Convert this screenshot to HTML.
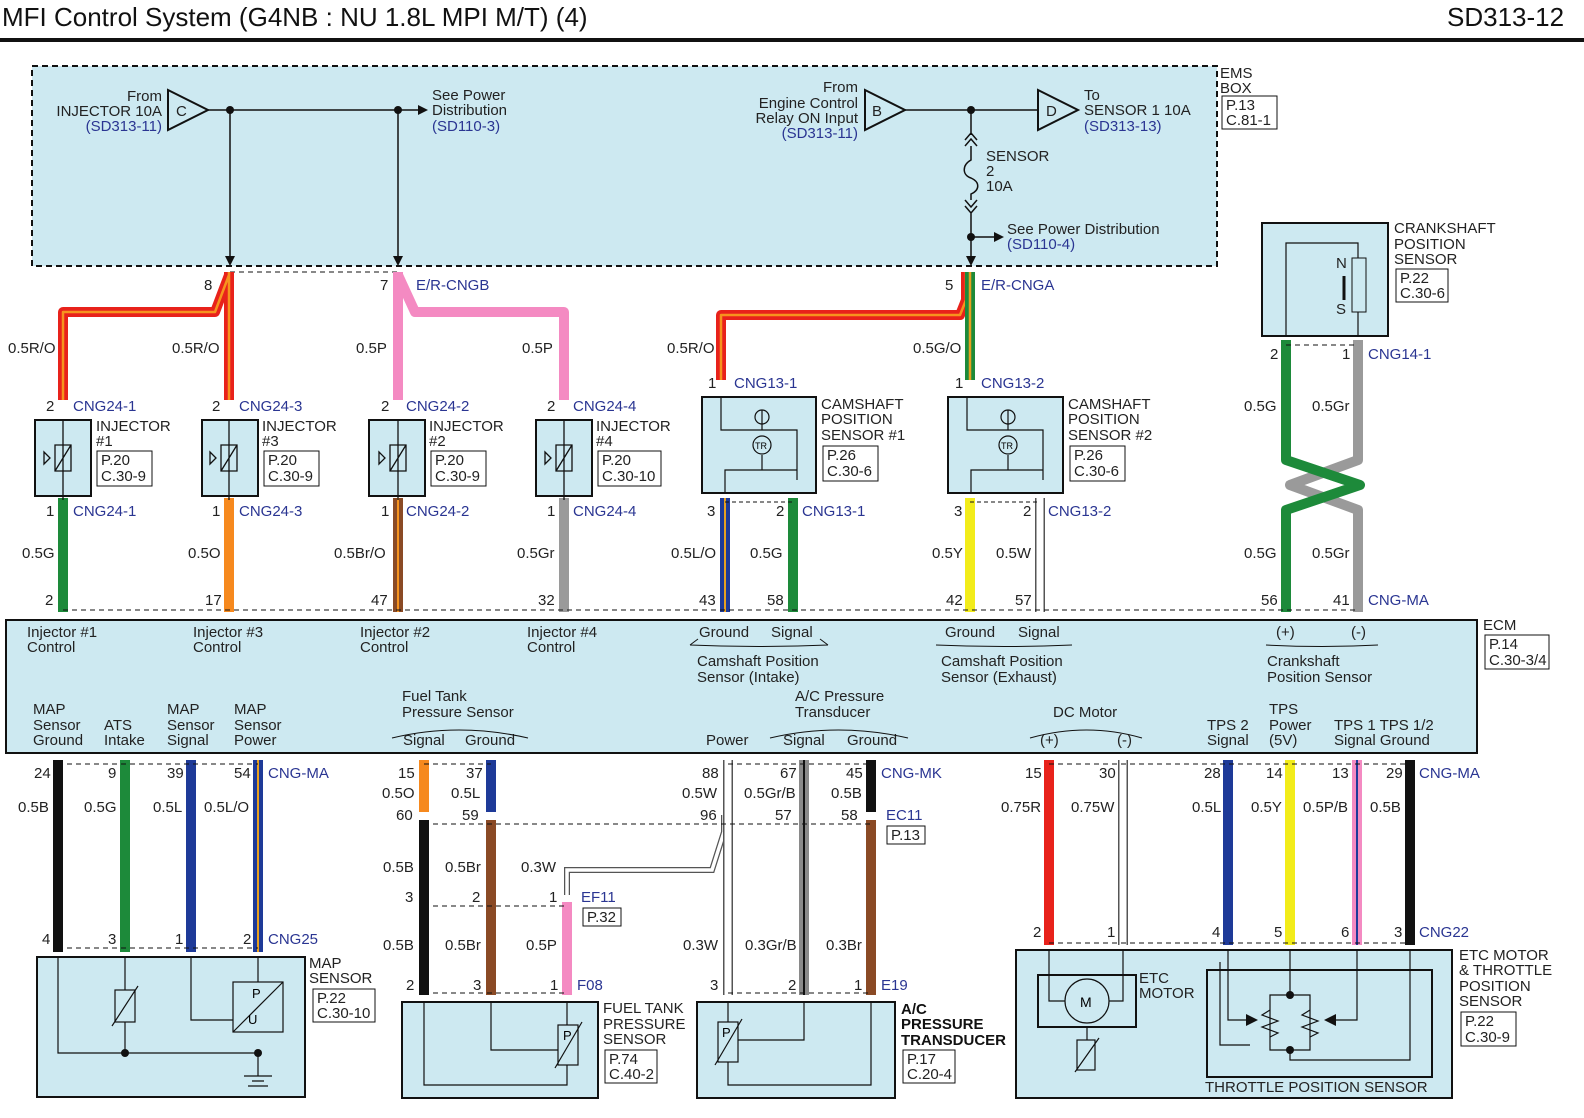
<!DOCTYPE html>
<html><head><meta charset="utf-8"><style>
html,body{margin:0;padding:0;background:#fff;}
svg{display:block;font-family:"Liberation Sans",sans-serif;}
.t{font-size:15px;fill:#222;}
.b{font-size:15px;fill:#2a3592;}
.s{font-size:15px;fill:#222;}
</style></head><body>
<svg width="1584" height="1118" viewBox="0 0 1584 1118" xmlns="http://www.w3.org/2000/svg">
<rect width="1584" height="1118" fill="#fff"/>
<text x="2" y="26" style="font-size:26px" fill="#111">MFI Control System (G4NB : NU 1.8L MPI M/T) (4)</text>
<text x="1447" y="26" style="font-size:26px" fill="#111">SD313-12</text>
<rect x="0" y="38" width="1584" height="4" fill="#111"/>

<!-- EMS box -->
<rect x="32" y="66" width="1185" height="200" fill="#cde9f1" stroke="#111" stroke-width="2" stroke-dasharray="6,4"/>
<text class="t" x="1220" y="78">EMS</text><text class="t" x="1220" y="93">BOX</text>
<rect x="1222" y="96" width="55" height="33" fill="none" stroke="#111"/>
<text class="t" x="1226" y="110">P.13</text><text class="t" x="1226" y="125">C.81-1</text>
<text class="t" x="162" y="101" text-anchor="end">From</text>
<text class="t" x="162" y="116" text-anchor="end">INJECTOR 10A</text>
<text class="b" x="162" y="131" text-anchor="end">(SD313-11)</text>
<polygon points="168,90 208,110 168,130" fill="none" stroke="#111" stroke-width="2"/><text class="t" x="176" y="116">C</text>
<line x1="208" y1="110" x2="420" y2="110" stroke="#111" stroke-width="1.5"/>
<polygon points="418,105 428,110 418,115" fill="#111"/>
<circle cx="230" cy="110" r="4" fill="#111"/><circle cx="398" cy="110" r="4" fill="#111"/>
<line x1="230" y1="110" x2="230" y2="262" stroke="#111" stroke-width="1.5"/>
<line x1="398" y1="110" x2="398" y2="262" stroke="#111" stroke-width="1.5"/>
<polygon points="225,256 230,266 235,256" fill="#111"/><polygon points="393,256 398,266 403,256" fill="#111"/>
<text class="t" x="432" y="100">See Power</text><text class="t" x="432" y="115">Distribution</text><text class="b" x="432" y="131">(SD110-3)</text>
<text class="t" x="858" y="92" text-anchor="end">From</text>
<text class="t" x="858" y="108" text-anchor="end">Engine Control</text>
<text class="t" x="858" y="123" text-anchor="end">Relay ON Input</text>
<text class="b" x="858" y="138" text-anchor="end">(SD313-11)</text>
<polygon points="865,90 905,110 865,130" fill="none" stroke="#111" stroke-width="2"/><text class="t" x="872" y="116">B</text>
<line x1="905" y1="110" x2="1038" y2="110" stroke="#111" stroke-width="1.5"/>
<polygon points="1038,90 1078,110 1038,130" fill="none" stroke="#111" stroke-width="2"/><text class="t" x="1046" y="116">D</text>
<circle cx="971" cy="110" r="4" fill="#111"/>
<text class="t" x="1084" y="100">To</text><text class="t" x="1084" y="115">SENSOR 1 10A</text><text class="b" x="1084" y="131">(SD313-13)</text>
<path d="M971,110 V135 M965,140 L971,133 L977,140 M965,146 L971,139 L977,146 M971,146 V160 C962,165 962,175 971,178 C980,182 980,190 971,194 V200 M965,200 L971,207 L977,200 M965,206 L971,213 L977,206 M971,213 V262" fill="none" stroke="#111" stroke-width="1.5"/>
<text class="t" x="986" y="161">SENSOR</text><text class="t" x="986" y="176">2</text><text class="t" x="986" y="191">10A</text>
<circle cx="971" cy="237" r="4" fill="#111"/><line x1="971" y1="237" x2="995" y2="237" stroke="#111" stroke-width="1.5"/><polygon points="994,232 1004,237 994,242" fill="#111"/>
<text class="t" x="1007" y="234">See Power Distribution</text><text class="b" x="1007" y="249">(SD110-4)</text>
<polygon points="966,256 971,266 976,256" fill="#111"/>
<line x1="230" y1="272" x2="398" y2="272" stroke="#111" stroke-dasharray="5,4"/>

<!-- top wires -->
<g fill="none" stroke-linejoin="round">
<path d="M229,272 V400 M229,275 L215,312 H63 V400" stroke="#e8221b" stroke-width="10"/>
<path d="M229,272 V400 M229,275 L215,312 H63 V400" stroke="#f6931e" stroke-width="2.5"/>
<path d="M398,272 V400 M398,275 L415,312 H564 V400" stroke="#f48ac2" stroke-width="10"/>
<path d="M721,380 V315 H960 L966,300 V272" stroke="#e8221b" stroke-width="10"/>
<path d="M721,380 V315 H960 L966,300 V272" stroke="#f6931e" stroke-width="2.5"/>
<path d="M970,272 V380" stroke="#1d8a3a" stroke-width="10"/>
<path d="M970,272 V380" stroke="#e8a020" stroke-width="2.5"/>
<path d="M63,498 V612" stroke="#1d8a3a" stroke-width="10"/>
<path d="M229,498 V612" stroke="#f6891e" stroke-width="10"/>
<path d="M398,498 V612" stroke="#8a4a25" stroke-width="10"/>
<path d="M398,498 V612" stroke="#f6931e" stroke-width="2"/>
<path d="M564,498 V612" stroke="#9a9a9a" stroke-width="10"/>
<path d="M725,498 V612" stroke="#1e3a98" stroke-width="10"/>
<path d="M725,498 V612" stroke="#e8a020" stroke-width="2"/>
<path d="M793,498 V612" stroke="#1d8a3a" stroke-width="10"/>
<path d="M970,498 V612" stroke="#f2ec1a" stroke-width="10"/>
<path d="M1040,498 V612" stroke="#555" stroke-width="10"/><path d="M1040,498 V612" stroke="#fff" stroke-width="7"/>
<path d="M1358,340 V460 L1290,485 L1358,510 V612" stroke="#9a9a9a" stroke-width="10"/>
<path d="M1286,340 V460 L1360,485 L1286,510 V612" stroke="#1d8a3a" stroke-width="10"/>
</g>
<line x1="1286" y1="345" x2="1358" y2="345" stroke="#111" stroke-dasharray="5,4"/>
<text class="t" x="1270" y="359">2</text><text class="t" x="1342" y="359">1</text><text class="b" x="1368" y="359">CNG14-1</text>
<text class="t" x="1244" y="411">0.5G</text><text class="t" x="1312" y="411">0.5Gr</text>
<text class="t" x="1244" y="558">0.5G</text><text class="t" x="1312" y="558">0.5Gr</text>

<!-- wire labels top -->
<text class="t" x="8" y="353">0.5R/O</text><text class="t" x="172" y="353">0.5R/O</text>
<text class="t" x="356" y="353">0.5P</text><text class="t" x="522" y="353">0.5P</text>
<text class="t" x="667" y="353">0.5R/O</text><text class="t" x="913" y="353">0.5G/O</text>
<text class="t" x="204" y="290">8</text><text class="t" x="380" y="290">7</text><text class="b" x="416" y="290">E/R-CNGB</text>
<text class="t" x="945" y="290">5</text><text class="b" x="981" y="290">E/R-CNGA</text>

<!-- injectors -->
<g>
<rect x="35" y="420" width="56" height="76" fill="#cde9f1" stroke="#111" stroke-width="2"/>
<rect x="202" y="420" width="56" height="76" fill="#cde9f1" stroke="#111" stroke-width="2"/>
<rect x="369" y="420" width="56" height="76" fill="#cde9f1" stroke="#111" stroke-width="2"/>
<rect x="536" y="420" width="56" height="76" fill="#cde9f1" stroke="#111" stroke-width="2"/>
</g>
<g fill="none" stroke="#111" stroke-width="1.3">
<path d="M63,420 V500 M55,445 h16 v26 h-16 z M55,471 L71,445 M44,452 l6,6 l-6,6 z"/>
<path d="M229,420 V500 M221,445 h16 v26 h-16 z M221,471 L237,445 M210,452 l6,6 l-6,6 z"/>
<path d="M398,420 V500 M390,445 h16 v26 h-16 z M390,471 L406,445 M379,452 l6,6 l-6,6 z"/>
<path d="M564,420 V500 M556,445 h16 v26 h-16 z M556,471 L572,445 M545,452 l6,6 l-6,6 z"/>
</g>
<text class="t" x="46" y="411">2</text><text class="b" x="73" y="411">CNG24-1</text>
<text class="t" x="212" y="411">2</text><text class="b" x="239" y="411">CNG24-3</text>
<text class="t" x="381" y="411">2</text><text class="b" x="406" y="411">CNG24-2</text>
<text class="t" x="547" y="411">2</text><text class="b" x="573" y="411">CNG24-4</text>
<text class="t" x="46" y="516">1</text><text class="b" x="73" y="516">CNG24-1</text>
<text class="t" x="212" y="516">1</text><text class="b" x="239" y="516">CNG24-3</text>
<text class="t" x="381" y="516">1</text><text class="b" x="406" y="516">CNG24-2</text>
<text class="t" x="547" y="516">1</text><text class="b" x="573" y="516">CNG24-4</text>
<text class="t" x="96" y="431">INJECTOR</text><text class="t" x="96" y="446">#1</text>
<text class="t" x="262" y="431">INJECTOR</text><text class="t" x="262" y="446">#3</text>
<text class="t" x="429" y="431">INJECTOR</text><text class="t" x="429" y="446">#2</text>
<text class="t" x="596" y="431">INJECTOR</text><text class="t" x="596" y="446">#4</text>
<g fill="none" stroke="#111"><rect x="97" y="451" width="55" height="35"/><rect x="264" y="451" width="55" height="35"/><rect x="431" y="451" width="55" height="35"/><rect x="598" y="451" width="63" height="35"/></g>
<text class="t" x="101" y="465">P.20</text><text class="t" x="101" y="481">C.30-9</text>
<text class="t" x="268" y="465">P.20</text><text class="t" x="268" y="481">C.30-9</text>
<text class="t" x="435" y="465">P.20</text><text class="t" x="435" y="481">C.30-9</text>
<text class="t" x="602" y="465">P.20</text><text class="t" x="602" y="481">C.30-10</text>
<text class="t" x="22" y="558">0.5G</text><text class="t" x="188" y="558">0.5O</text><text class="t" x="334" y="558">0.5Br/O</text><text class="t" x="517" y="558">0.5Gr</text>
<text class="t" x="671" y="558">0.5L/O</text><text class="t" x="750" y="558">0.5G</text>
<text class="t" x="932" y="558">0.5Y</text><text class="t" x="996" y="558">0.5W</text>

<!-- cam sensors -->
<rect x="702" y="397" width="114" height="96" fill="#cde9f1" stroke="#111" stroke-width="2"/>
<rect x="948" y="397" width="115" height="96" fill="#cde9f1" stroke="#111" stroke-width="2"/>
<g fill="none" stroke="#111" stroke-width="1.2">
<path d="M721,397 V430 H797 V480 M762,410 V430 M725,493 V470 H797 M762,455 V470"/>
<circle cx="762" cy="417" r="7"/><circle cx="762" cy="445" r="9"/>
<path d="M967,397 V430 H1043 V480 M1008,410 V430 M971,493 V470 H1043 M1008,455 V470"/>
<circle cx="1008" cy="417" r="7"/><circle cx="1008" cy="445" r="9"/>
</g>
<text x="755" y="449" style="font-size:9px">TR</text><text x="1001" y="449" style="font-size:9px">TR</text>
<text class="t" x="708" y="388">1</text><text class="b" x="734" y="388">CNG13-1</text>
<text class="t" x="955" y="388">1</text><text class="b" x="981" y="388">CNG13-2</text>
<text class="t" x="821" y="409">CAMSHAFT</text><text class="t" x="821" y="424">POSITION</text><text class="t" x="821" y="440">SENSOR #1</text>
<text class="t" x="1068" y="409">CAMSHAFT</text><text class="t" x="1068" y="424">POSITION</text><text class="t" x="1068" y="440">SENSOR #2</text>
<rect x="823" y="446" width="55" height="35" fill="none" stroke="#111"/><text class="t" x="827" y="460">P.26</text><text class="t" x="827" y="476">C.30-6</text>
<rect x="1070" y="446" width="55" height="35" fill="none" stroke="#111"/><text class="t" x="1074" y="460">P.26</text><text class="t" x="1074" y="476">C.30-6</text>
<text class="t" x="707" y="516">3</text><text class="t" x="776" y="516">2</text><text class="b" x="802" y="516">CNG13-1</text>
<text class="t" x="954" y="516">3</text><text class="t" x="1023" y="516">2</text><text class="b" x="1048" y="516">CNG13-2</text>
<line x1="725" y1="502" x2="793" y2="502" stroke="#111" stroke-dasharray="4,3"/>
<line x1="970" y1="502" x2="1040" y2="502" stroke="#111" stroke-dasharray="4,3"/>

<!-- crank sensor -->
<rect x="1262" y="223" width="126" height="113" fill="#cde9f1" stroke="#111" stroke-width="2"/>
<path d="M1286,336 V243 H1358 V258 M1358,312 V336" fill="none" stroke="#111" stroke-width="1.2"/>
<rect x="1352" y="258" width="14" height="54" fill="none" stroke="#111"/>
<text class="t" x="1336" y="268">N</text><text class="t" x="1336" y="314">S</text>
<line x1="1344" y1="276" x2="1344" y2="300" stroke="#111" stroke-width="3"/>
<text class="t" x="1394" y="233">CRANKSHAFT</text><text class="t" x="1394" y="249">POSITION</text><text class="t" x="1394" y="264">SENSOR</text>
<rect x="1396" y="269" width="52" height="33" fill="none" stroke="#111"/><text class="t" x="1400" y="283">P.22</text><text class="t" x="1400" y="298">C.30-6</text>

<!-- ECM top pins -->
<line x1="63" y1="610" x2="1358" y2="610" stroke="#111" stroke-dasharray="5,4"/>
<text class="t" x="45" y="605">2</text><text class="t" x="205" y="605">17</text><text class="t" x="371" y="605">47</text><text class="t" x="538" y="605">32</text>
<text class="t" x="699" y="605">43</text><text class="t" x="767" y="605">58</text><text class="t" x="946" y="605">42</text><text class="t" x="1015" y="605">57</text>
<text class="t" x="1261" y="605">56</text><text class="t" x="1333" y="605">41</text><text class="b" x="1368" y="605">CNG-MA</text>

<!-- ECM -->
<rect x="6" y="620" width="1471" height="133" fill="#cde9f1" stroke="#111" stroke-width="2"/>
<text class="t" x="1483" y="630">ECM</text>
<rect x="1485" y="635" width="64" height="34" fill="none" stroke="#111"/><text class="t" x="1489" y="649">P.14</text><text class="t" x="1489" y="665">C.30-3/4</text>
<text class="t" x="27" y="637">Injector #1</text><text class="t" x="27" y="652">Control</text>
<text class="t" x="193" y="637">Injector #3</text><text class="t" x="193" y="652">Control</text>
<text class="t" x="360" y="637">Injector #2</text><text class="t" x="360" y="652">Control</text>
<text class="t" x="527" y="637">Injector #4</text><text class="t" x="527" y="652">Control</text>
<text class="t" x="699" y="637">Ground</text><text class="t" x="771" y="637">Signal</text>
<text class="t" x="697" y="666">Camshaft Position</text><text class="t" x="697" y="682">Sensor (Intake)</text>
<text class="t" x="945" y="637">Ground</text><text class="t" x="1018" y="637">Signal</text>
<text class="t" x="941" y="666">Camshaft Position</text><text class="t" x="941" y="682">Sensor (Exhaust)</text>
<text class="t" x="1276" y="637">(+)</text><text class="t" x="1351" y="637">(-)</text>
<text class="t" x="1267" y="666">Crankshaft</text><text class="t" x="1267" y="682">Position Sensor</text>
<g fill="none" stroke="#111"><path d="M690,645 l8,-6 M828,645 l-8,-6 M690,645 Q759,648 828,645 M936,645 Q1004,648 1072,645 M1266,645 Q1322,648 1378,645"/></g>
<text class="t" x="33" y="714">MAP</text><text class="t" x="33" y="730">Sensor</text><text class="t" x="33" y="745">Ground</text>
<text class="t" x="104" y="730">ATS</text><text class="t" x="104" y="745">Intake</text>
<text class="t" x="167" y="714">MAP</text><text class="t" x="167" y="730">Sensor</text><text class="t" x="167" y="745">Signal</text>
<text class="t" x="234" y="714">MAP</text><text class="t" x="234" y="730">Sensor</text><text class="t" x="234" y="745">Power</text>
<text class="t" x="402" y="701">Fuel Tank</text><text class="t" x="402" y="717">Pressure Sensor</text>
<text class="t" x="403" y="745">Signal</text><text class="t" x="465" y="745">Ground</text>
<text class="t" x="706" y="745">Power</text>
<text class="t" x="795" y="701">A/C Pressure</text><text class="t" x="795" y="717">Transducer</text>
<text class="t" x="783" y="745">Signal</text><text class="t" x="847" y="745">Ground</text>
<text class="t" x="1053" y="717">DC Motor</text>
<text class="t" x="1040" y="745">(+)</text><text class="t" x="1117" y="745">(-)</text>
<text class="t" x="1207" y="730">TPS 2</text><text class="t" x="1207" y="745">Signal</text>
<text class="t" x="1269" y="714">TPS</text><text class="t" x="1269" y="730">Power</text><text class="t" x="1269" y="745">(5V)</text>
<text class="t" x="1334" y="730">TPS 1 TPS 1/2</text><text class="t" x="1334" y="745">Signal Ground</text>
<g fill="none" stroke="#111"><path d="M392,738 Q458,722 528,738 M770,738 Q838,722 908,738 M1030,738 Q1087,722 1142,738"/></g>

<!-- bottom wires -->
<g fill="none">
<path d="M58,760 V952" stroke="#111" stroke-width="10"/>
<path d="M125,760 V952" stroke="#1d8a3a" stroke-width="10"/>
<path d="M191,760 V952" stroke="#1e3a98" stroke-width="10"/>
<path d="M258,760 V952" stroke="#1e3a98" stroke-width="10"/><path d="M258,760 V952" stroke="#e8a020" stroke-width="2"/>
<path d="M424,760 V812" stroke="#f6891e" stroke-width="10"/><path d="M424,820 V995" stroke="#111" stroke-width="10"/>
<path d="M491,760 V812" stroke="#1e3a98" stroke-width="10"/><path d="M491,820 V995" stroke="#8a4a25" stroke-width="10"/>
<path d="M567,902 V995" stroke="#f48ac2" stroke-width="10"/>
<path d="M567,895 V870 H712 L724,832 V815" stroke="#555" stroke-width="6"/><path d="M567,895 V870 H712 L724,832 V815" stroke="#fff" stroke-width="3.5"/>
<path d="M728,760 V995" stroke="#555" stroke-width="10"/><path d="M728,760 V995" stroke="#fff" stroke-width="7"/>
<path d="M804,760 V995" stroke="#8a8a8a" stroke-width="10"/><path d="M804,760 V995" stroke="#111" stroke-width="2"/>
<path d="M871,760 V812" stroke="#111" stroke-width="10"/><path d="M871,820 V995" stroke="#8a4a25" stroke-width="10"/>
<path d="M1049,760 V945" stroke="#e8221b" stroke-width="10"/>
<path d="M1123,760 V945" stroke="#555" stroke-width="10"/><path d="M1123,760 V945" stroke="#fff" stroke-width="7"/>
<path d="M1228,760 V945" stroke="#1e3a98" stroke-width="10"/>
<path d="M1290,760 V945" stroke="#f2ec1a" stroke-width="10"/>
<path d="M1357,760 V945" stroke="#f48ac2" stroke-width="10"/><path d="M1357,760 V945" stroke="#1e3a98" stroke-width="2"/>
<path d="M1410,760 V945" stroke="#111" stroke-width="10"/>
</g>
<g stroke="#111" stroke-dasharray="5,4">
<line x1="58" y1="764" x2="258" y2="764"/><line x1="424" y1="764" x2="491" y2="764"/><line x1="728" y1="764" x2="871" y2="764"/>
<line x1="1049" y1="764" x2="1410" y2="764"/><line x1="424" y1="824" x2="871" y2="824"/><line x1="424" y1="906" x2="567" y2="906"/>
<line x1="58" y1="948" x2="258" y2="948"/><line x1="424" y1="993" x2="567" y2="993"/><line x1="728" y1="993" x2="871" y2="993"/>
<line x1="1049" y1="943" x2="1410" y2="943"/>
</g>
<text class="t" x="34" y="778">24</text><text class="t" x="108" y="778">9</text><text class="t" x="167" y="778">39</text><text class="t" x="234" y="778">54</text><text class="b" x="268" y="778">CNG-MA</text>
<text class="t" x="398" y="778">15</text><text class="t" x="466" y="778">37</text>
<text class="t" x="702" y="778">88</text><text class="t" x="780" y="778">67</text><text class="t" x="846" y="778">45</text><text class="b" x="881" y="778">CNG-MK</text>
<text class="t" x="1025" y="778">15</text><text class="t" x="1099" y="778">30</text>
<text class="t" x="1204" y="778">28</text><text class="t" x="1266" y="778">14</text><text class="t" x="1332" y="778">13</text><text class="t" x="1386" y="778">29</text><text class="b" x="1419" y="778">CNG-MA</text>
<text class="t" x="18" y="812">0.5B</text><text class="t" x="84" y="812">0.5G</text><text class="t" x="153" y="812">0.5L</text><text class="t" x="204" y="812">0.5L/O</text>
<text class="t" x="382" y="798">0.5O</text><text class="t" x="451" y="798">0.5L</text>
<text class="t" x="682" y="798">0.5W</text><text class="t" x="744" y="798">0.5Gr/B</text><text class="t" x="831" y="798">0.5B</text>
<text class="t" x="1001" y="812">0.75R</text><text class="t" x="1071" y="812">0.75W</text>
<text class="t" x="1192" y="812">0.5L</text><text class="t" x="1251" y="812">0.5Y</text><text class="t" x="1303" y="812">0.5P/B</text><text class="t" x="1370" y="812">0.5B</text>
<text class="t" x="396" y="820">60</text><text class="t" x="462" y="820">59</text><text class="t" x="700" y="820">96</text><text class="t" x="775" y="820">57</text><text class="t" x="841" y="820">58</text>
<text class="b" x="886" y="820">EC11</text><rect x="887" y="826" width="38" height="18" fill="none" stroke="#111"/><text class="t" x="891" y="840">P.13</text>
<text class="t" x="383" y="872">0.5B</text><text class="t" x="445" y="872">0.5Br</text><text class="t" x="521" y="872">0.3W</text>
<text class="t" x="405" y="902">3</text><text class="t" x="472" y="902">2</text><text class="t" x="549" y="902">1</text>
<text class="b" x="581" y="902">EF11</text><rect x="583" y="908" width="38" height="18" fill="none" stroke="#111"/><text class="t" x="587" y="922">P.32</text>
<text class="t" x="383" y="950">0.5B</text><text class="t" x="445" y="950">0.5Br</text><text class="t" x="526" y="950">0.5P</text>
<text class="t" x="683" y="950">0.3W</text><text class="t" x="745" y="950">0.3Gr/B</text><text class="t" x="826" y="950">0.3Br</text>
<text class="t" x="42" y="944">4</text><text class="t" x="108" y="944">3</text><text class="t" x="175" y="944">1</text><text class="t" x="243" y="944">2</text><text class="b" x="268" y="944">CNG25</text>
<text class="t" x="406" y="990">2</text><text class="t" x="473" y="990">3</text><text class="t" x="550" y="990">1</text><text class="b" x="577" y="990">F08</text>
<text class="t" x="710" y="990">3</text><text class="t" x="788" y="990">2</text><text class="t" x="854" y="990">1</text><text class="b" x="881" y="990">E19</text>
<text class="t" x="1033" y="937">2</text><text class="t" x="1107" y="937">1</text><text class="t" x="1212" y="937">4</text><text class="t" x="1274" y="937">5</text><text class="t" x="1341" y="937">6</text><text class="t" x="1394" y="937">3</text><text class="b" x="1419" y="937">CNG22</text>

<!-- MAP sensor -->
<rect x="37" y="957" width="268" height="140" fill="#cde9f1" stroke="#111" stroke-width="2"/>
<g fill="none" stroke="#111" stroke-width="1.2">
<path d="M58,957 V1053 H258 V1073 M125,957 V990 M125,1022 V1053 M191,957 V1020 H233 M258,957 V982"/>
<rect x="115" y="990" width="20" height="32"/><path d="M112,1026 L138,986"/>
<rect x="233" y="982" width="50" height="50"/><path d="M233,1032 L283,982"/>
<path d="M248,1086 h20 M252,1081 h12 M244,1076 h28 M258,1073 v3"/>
</g>
<circle cx="125" cy="1053" r="4" fill="#111"/><circle cx="258" cy="1053" r="4" fill="#111"/>
<text x="252" y="998" style="font-size:13px">P</text><text x="248" y="1024" style="font-size:13px">U</text>
<text class="t" x="309" y="968">MAP</text><text class="t" x="309" y="983">SENSOR</text>
<rect x="313" y="989" width="62" height="33" fill="none" stroke="#111"/><text class="t" x="317" y="1003">P.22</text><text class="t" x="317" y="1018">C.30-10</text>

<!-- fuel tank sensor -->
<rect x="402" y="1002" width="196" height="96" fill="#cde9f1" stroke="#111" stroke-width="2"/>
<g fill="none" stroke="#111" stroke-width="1.2">
<path d="M424,1002 V1085 H567 V1065 M491,1002 V1050 H558 M567,1002 V1025"/>
<rect x="558" y="1025" width="20" height="40"/><path d="M555,1068 L582,1022"/>
</g>
<text x="563" y="1040" style="font-size:13px">P</text>
<text class="t" x="603" y="1013">FUEL TANK</text><text class="t" x="603" y="1029">PRESSURE</text><text class="t" x="603" y="1044">SENSOR</text>
<rect x="605" y="1050" width="52" height="33" fill="none" stroke="#111"/><text class="t" x="609" y="1064">P.74</text><text class="t" x="609" y="1079">C.40-2</text>

<!-- AC transducer -->
<rect x="697" y="1002" width="198" height="96" fill="#cde9f1" stroke="#111" stroke-width="2"/>
<g fill="none" stroke="#111" stroke-width="1.2">
<path d="M728,1002 V1022 M728,1062 V1085 H871 V1002 M804,1002 V1040 H738"/>
<rect x="718" y="1022" width="20" height="40"/><path d="M715,1065 L742,1019"/>
</g>
<text x="722" y="1037" style="font-size:13px">P</text>
<text x="901" y="1014" style="font-size:15px;font-weight:bold" fill="#111">A/C</text>
<text x="901" y="1029" style="font-size:15px;font-weight:bold" fill="#111">PRESSURE</text>
<text x="901" y="1045" style="font-size:15px;font-weight:bold" fill="#111">TRANSDUCER</text>
<rect x="903" y="1050" width="52" height="33" fill="none" stroke="#111"/><text class="t" x="907" y="1064">P.17</text><text class="t" x="907" y="1079">C.20-4</text>

<!-- ETC -->
<rect x="1016" y="950" width="436" height="148" fill="#cde9f1" stroke="#111" stroke-width="2"/>
<rect x="1038" y="975" width="98" height="52" fill="none" stroke="#111" stroke-width="2"/>
<rect x="1207" y="970" width="225" height="107" fill="none" stroke="#111" stroke-width="2"/>
<g fill="none" stroke="#111" stroke-width="1.2">
<path d="M1049,950 V1001 H1065 M1109,1001 H1123 V950"/>
<circle cx="1087" cy="1001" r="22"/>
<rect x="1077" y="1040" width="18" height="30"/><path d="M1075,1072 L1099,1038 M1087,1027 V1040"/>
<path d="M1228,950 V1020 H1246 M1290,950 V995 M1357,950 V1020 H1336 M1410,950 V1060 H1290 V1050 M1220,962 V1045 H1250 M1290,995 H1270 L1270,1050 H1310 V995 Z"/>
<path d="M1270,1010 l-8,5 l16,6 l-16,6 l16,6 l-8,4 M1310,1010 l-8,5 l16,6 l-16,6 l16,6 l-8,4"/>
</g>
<polygon points="1246,1014 1258,1020 1246,1026" fill="#111"/><polygon points="1336,1014 1324,1020 1336,1026" fill="#111"/>
<circle cx="1290" cy="995" r="4" fill="#111"/><circle cx="1290" cy="1050" r="4" fill="#111"/>
<text x="1080" y="1007" style="font-size:14px">M</text>
<text class="t" x="1139" y="983">ETC</text><text class="t" x="1139" y="998">MOTOR</text>
<text class="t" x="1205" y="1092">THROTTLE POSITION SENSOR</text>
<text class="t" x="1459" y="960">ETC MOTOR</text><text class="t" x="1459" y="975">&amp; THROTTLE</text><text class="t" x="1459" y="991">POSITION</text><text class="t" x="1459" y="1006">SENSOR</text>
<rect x="1461" y="1012" width="55" height="34" fill="none" stroke="#111"/><text class="t" x="1465" y="1026">P.22</text><text class="t" x="1465" y="1042">C.30-9</text>
</svg>
</body></html>
